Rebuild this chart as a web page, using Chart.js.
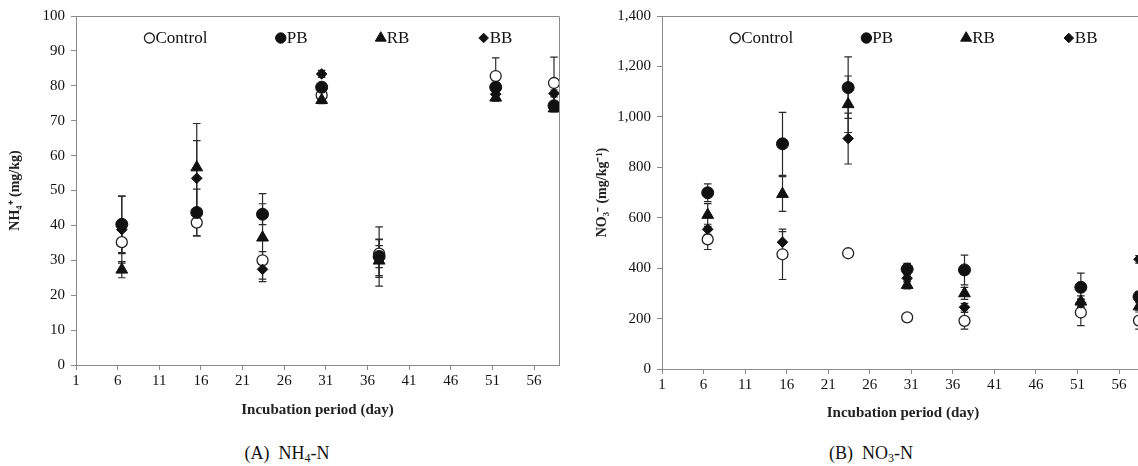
<!DOCTYPE html>
<html><head><meta charset="utf-8">
<script src="https://cdn.jsdelivr.net/npm/chart.js@4.4.0/dist/chart.umd.min.js"></script>
<style>
html,body{margin:0;padding:0;background:#fff;overflow:hidden;width:1138px;height:466px;position:relative;}
#wrapA{position:absolute;left:0;top:0;width:572px;height:430px;}
#wrapB{position:absolute;left:580px;top:0;width:580px;height:434px;}
.cap{position:absolute;top:442px;width:240px;text-align:center;font-family:"Liberation Serif",serif;font-size:18px;line-height:22px;color:#111;white-space:pre;}
.cap sub{font-size:12px;vertical-align:-3px;line-height:0;}
</style></head><body>
<div id="wrapA"><canvas id="cA"></canvas></div>
<div id="wrapB"><canvas id="cB"></canvas></div>
<div class="cap" style="left:167px;">(A)  NH<sub>4</sub>-N</div>
<div class="cap" style="left:751px;">(B)  NO<sub>3</sub>-N</div>
<script>
// ---- data ----
const seriesNames = ['Control', 'PB', 'RB', 'BB'];
const xTickValues = [1, 6, 11, 16, 21, 26, 31, 36, 41, 46, 51, 56];
const days = [6.5, 15.5, 23.4, 30.5, 37.4, 51.4, 58.4];

const nh4Control = [35.2, 40.8, 30.0, 77.3, 31.9, 82.8, 80.8];
const nh4ControlErr = [3.3, 3.8, 2.5, 1.5, 4.0, 5.2, 7.4];
const nh4PB = [40.3, 43.7, 43.2, 79.6, 31.1, 79.6, 74.3];
const nh4PBErr = [8.1, 6.7, 3.0, 1.0, 8.5, 1.2, 1.0];
const nh4RB = [27.3, 56.6, 36.5, 75.9, 29.9, 76.6, 73.5];
const nh4RBErr = [2.3, 12.6, 12.6, 1.0, 4.3, 1.0, 1.0];
const nh4BB = [38.8, 53.5, 27.4, 83.4, 30.6, 77.6, 77.8];
const nh4BBErr = [9.6, 10.8, 2.8, 1.0, 5.5, 1.0, 1.0];

const no3Control = [514, 455, 459, 205, 191, 224, 192];
const no3ControlErr = [40, 100, 10, 12, 33, 52, 34];
const no3PB = [699, 893, 1116, 396, 393, 324, 287];
const no3PBErr = [35, 125, 122, 23, 59, 56, 20];
const no3RB = [611, 694, 1050, 333, 300, 267, 248];
const no3RBErr = [45, 69, 112, 15, 24, 23, 15];
const no3BB = [554, 503, 914, 360, 245, 262, 435];
const no3BBErr = [20, 42, 101, 15, 15, 15, 15];

// ---- styling ----
const SERIF = '"Liberation Serif", "Times New Roman", serif';
const styles = [
  {pointStyle: 'circle', radius: 5.5, bg: '#ffffff', border: '#222', bw: 1.3},
  {pointStyle: 'circle', radius: 6, bg: '#111', border: '#111', bw: 1},
  {pointStyle: 'triangle', radius: 6.8, bg: '#111', border: '#111', bw: 1},
  {pointStyle: 'rectRot', radius: 5.3, bg: '#111', border: '#111', bw: 1}
];
const legendFrac = [0.152, 0.424, 0.631, 0.844];

function mkDatasets(vals, errs) {
  return vals.map((v, i) => ({
    label: seriesNames[i],
    data: days.map((d, j) => ({x: d, y: v[j]})),
    errors: errs[i],
    pointStyle: styles[i].pointStyle,
    pointRadius: styles[i].radius,
    pointHoverRadius: styles[i].radius,
    backgroundColor: styles[i].bg,
    borderColor: styles[i].border,
    pointBorderWidth: styles[i].bw,
    showLine: false,
    order: 4 - i
  }));
}

const errorBars = {
  id: 'errorBars',
  beforeDatasetsDraw(chart) {
    const {ctx} = chart;
    const xs = chart.scales.x, ys = chart.scales.y;
    ctx.save();
    ctx.strokeStyle = '#2a2a2a';
    ctx.lineWidth = 1.2;
    chart.data.datasets.forEach(ds => {
      ds.data.forEach((p, j) => {
        const e = ds.errors[j];
        const px = xs.getPixelForValue(p.x);
        const yt = ys.getPixelForValue(p.y + e);
        const yb = ys.getPixelForValue(p.y - e);
        ctx.beginPath();
        ctx.moveTo(px, yt); ctx.lineTo(px, yb);
        ctx.moveTo(px - 3.8, yt); ctx.lineTo(px + 3.8, yt);
        ctx.moveTo(px - 3.8, yb); ctx.lineTo(px + 3.8, yb);
        ctx.stroke();
      });
    });
    ctx.restore();
  }
};

const frameAndLegend = {
  id: 'frameAndLegend',
  beforeDatasetsDraw(chart) {
    const {ctx, chartArea: a} = chart;
    ctx.save();
    ctx.strokeStyle = '#8a8a8a';
    ctx.lineWidth = 1;
    ctx.beginPath();
    ctx.moveTo(a.left, a.top + 0.5); ctx.lineTo(a.right + 0.5, a.top + 0.5);
    ctx.lineTo(a.right + 0.5, a.bottom);
    ctx.stroke();
    ctx.restore();
  },
  afterDatasetsDraw(chart) {
    const {ctx, chartArea: a} = chart;
    ctx.save();
    const y = a.top + 22;
    chart.data.datasets.forEach((ds, i) => {
      const x = a.left + legendFrac[i] * (a.right - a.left);
      ctx.fillStyle = styles[i].bg;
      ctx.strokeStyle = styles[i].border;
      ctx.lineWidth = styles[i].bw;
      const r = styles[i].pointStyle === 'triangle' ? 6.3 : (i === 0 ? 5 : (i === 3 ? 4.8 : 5.2));
      Chart.helpers.drawPoint(ctx, {pointStyle: styles[i].pointStyle, radius: r, rotation: 0, borderWidth: styles[i].bw}, x, y);
      ctx.fillStyle = '#111';
      ctx.font = '17px ' + SERIF;
      ctx.textBaseline = 'middle';
      ctx.textAlign = 'left';
      ctx.fillText(ds.label, x + 6, y + 1);
    });
    ctx.restore();
  }
};

function makeChart(id, datasets, yMax, yStep, yTitle, yFit, pad, xFit, xTitlePad, yTitlePad, fmt) {
  return new Chart(document.getElementById(id), {
    type: 'scatter',
    data: {datasets},
    plugins: [errorBars, frameAndLegend],
    options: {
      responsive: true,
      maintainAspectRatio: false,
      animation: false,
      layout: {padding: pad},
      plugins: {legend: {display: false}, tooltip: {enabled: false}},
      scales: {
        x: {
          type: 'linear', min: 1, max: 59,
          afterBuildTicks: s => { s.ticks = xTickValues.map(v => ({value: v})); },
          afterFit: s => { s.height = xFit; },
          grid: {display: true, drawOnChartArea: false, drawTicks: true, tickLength: 5, color: '#8a8a8a'},
          border: {display: true, color: '#8a8a8a', width: 1},
          ticks: {color: '#111', font: {family: SERIF, size: 15}, padding: 2, maxRotation: 0, autoSkip: false},
          title: {display: true, text: 'Incubation period (day)', color: '#222',
                  font: {family: SERIF, size: 15, weight: 'bold'}, padding: {top: 0, bottom: xTitlePad}}
        },
        y: {
          min: 0, max: yMax,
          afterFit: s => { s.width = yFit; },
          grid: {display: true, drawOnChartArea: false, drawTicks: true, tickLength: 5, color: '#8a8a8a'},
          border: {display: true, color: '#8a8a8a', width: 1},
          ticks: {stepSize: yStep, color: '#111', font: {family: SERIF, size: 15}, padding: 6,
                  callback: v => fmt(v)},
          title: {display: true, text: yTitle, color: '#222',
                  font: {family: SERIF, size: 14, weight: 'bold'}, padding: {top: yTitlePad, bottom: 0}}
        }
      }
    }
  });
}

makeChart('cA',
  mkDatasets([nh4Control, nh4PB, nh4RB, nh4BB], [nh4ControlErr, nh4PBErr, nh4RBErr, nh4BBErr]),
  100, 10, 'NH\u2084\u207A (mg/kg)', 76, {left: 0, top: 16, right: 13, bottom: 0}, 65, 10.8, 6.6,
  v => String(v));
makeChart('cB',
  mkDatasets([no3Control, no3PB, no3RB, no3BB], [no3ControlErr, no3PBErr, no3RBErr, no3BBErr]),
  1400, 200, 'NO\u2083\u207B (mg/kg\u207B\u00B9)', 82, {left: 0, top: 16, right: 16, bottom: 0}, 65, 11.8, 13.6,
  v => v.toLocaleString('en-US'));
</script>
</body></html>
